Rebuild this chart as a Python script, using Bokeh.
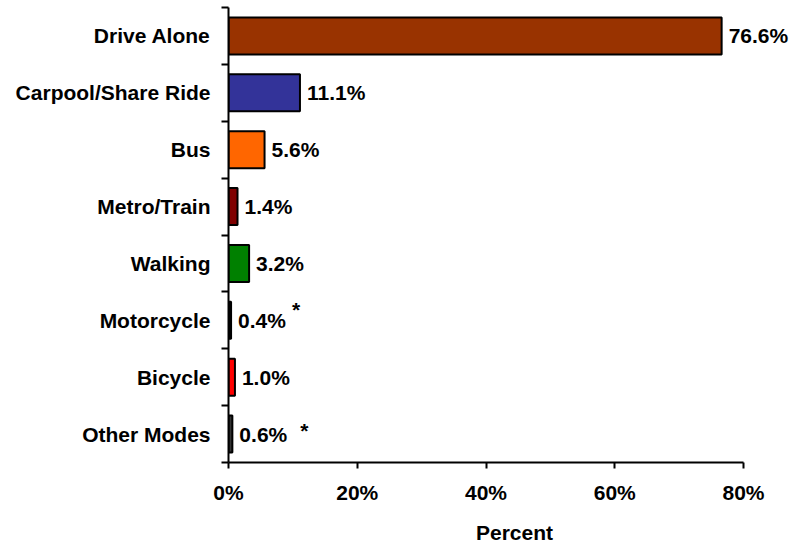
from bokeh.plotting import figure
from bokeh.models import FixedTicker, PrintfTickFormatter, ColumnDataSource, Range1d
from bokeh.embed import file_html
from bokeh.resources import INLINE
from bokeh.core.properties import value

categories = ["Drive Alone", "Carpool/Share Ride", "Bus", "Metro/Train",
              "Walking", "Motorcycle", "Bicycle", "Other Modes"]
percents = [76.6, 11.1, 5.6, 1.4, 3.2, 0.4, 1.0, 0.6]
notes = ["", "", "", "", "", "*", "", "*"]
colors = ["#993300", "#333399", "#FF6600", "#800000",
          "#008000", "#000000", "#FF0000", "#333333"]
x_ticks = [0, 20, 40, 60, 80]

FONT = "Liberation Sans"
FS = "21px"
n = len(categories)
ypos = [n - i - 0.5 for i in range(n)]
labels = [f"{v:.1f}%" for v in percents]

src = ColumnDataSource(dict(cat=categories, pct=percents, y=ypos,
                            color=colors, label=labels))

p = figure(frame_width=572, frame_height=455,
           min_border_left=228, min_border_right=0, min_border_top=7,
           min_border_bottom=78,
           x_range=Range1d(0, 88.85), y_range=Range1d(0, n),
           output_backend="svg", toolbar_location=None)
p.outline_line_color = None
p.xgrid.visible = False
p.ygrid.visible = False
p.background_fill_color = "white"

p.hbar(y="y", left=0, right="pct", height=0.65, fill_color="color",
       line_color="black", line_width=2, source=src)

p.text(x="pct", y="y", text="label", x_offset=7, text_baseline="middle",
       text_align="left", text_font=value(FONT), text_font_style="bold",
       text_font_size=FS, text_color="black", source=src)

# asterisk notes
note_offsets = {"Motorcycle": (61, -11), "Other Modes": (68, -4)}
for c, v, y, note in zip(categories, percents, ypos, notes):
    if note:
        dx, dy = note_offsets.get(c, (60, -8))
        p.text(x=[v], y=[y], text=[note], x_offset=dx, y_offset=dy,
               text_baseline="middle", text_align="left",
               text_font=value(FONT), text_font_style="bold",
               text_font_size=FS, text_color="black")

# y axis
ya = p.yaxis[0]
ya.ticker = FixedTicker(ticks=ypos, minor_ticks=list(range(n + 1)))
ya.major_label_overrides = {y: c for y, c in zip(ypos, categories)}
ya.major_tick_out = 0
ya.major_tick_in = 0
ya.minor_tick_out = 7
ya.minor_tick_in = 0
ya.minor_tick_line_width = 2
ya.minor_tick_line_color = "black"
ya.axis_line_width = 2
ya.axis_line_color = "black"
ya.major_label_standoff = 11
ya.bounds = (0, n)

# x axis
xa = p.xaxis[0]
xa.ticker = FixedTicker(ticks=x_ticks, minor_ticks=[])
xa.formatter = PrintfTickFormatter(format="%d%%")
xa.major_tick_out = 6
xa.major_tick_in = 0
xa.major_tick_line_width = 2
xa.major_tick_line_color = "black"
xa.axis_line_width = 2
xa.axis_line_color = "black"
xa.bounds = (0, 80)
xa.major_label_standoff = 12
xa.axis_label = "Percent"
xa.axis_label_standoff = 14

for ax in (xa, ya):
    ax.major_label_text_font = FONT
    ax.major_label_text_font_style = "bold"
    ax.major_label_text_font_size = FS
    ax.major_label_text_color = "black"
    ax.axis_label_text_font = FONT
    ax.axis_label_text_font_style = "bold"
    ax.axis_label_text_font_size = FS
    ax.axis_label_text_color = "black"

open("out.html", "w").write(file_html(p, INLINE))
